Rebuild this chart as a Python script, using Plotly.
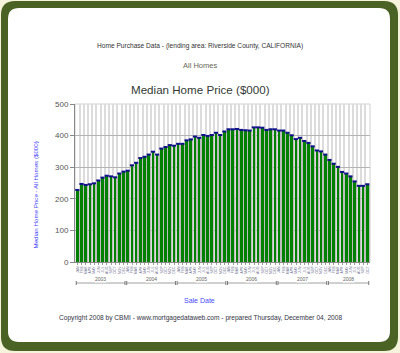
import plotly.graph_objects as go

# ---- data ----
years = ["2003", "2004", "2005", "2006", "2007", "2008"]
months_per_year = [12, 12, 12, 12, 12, 10]
month_names = ["JAN", "FEB", "MAR", "APR", "MAY", "JUN", "JUL", "AUG", "SEP", "OCT", "NOV", "DEC"]
prices = [228, 247, 244, 246, 249, 258, 267, 273, 271, 268, 280, 286,
          289, 306, 314, 329, 333, 340, 349, 340, 359, 364, 370, 368,
          374, 374, 385, 388, 397, 393, 402, 399, 402, 409, 402, 413,
          420, 420, 421, 418, 417, 416, 426, 426, 425, 418, 420, 420,
          416, 416, 409, 401, 389, 393, 383, 377, 366, 353, 350, 340,
          323, 311, 301, 285, 280, 271, 255, 241, 241, 246]

labels = []
for y, n in zip(years, months_per_year):
    for m in month_names[:n]:
        labels.append(m)
xs = list(range(len(prices)))

W, H = 400, 353
L, R, T, B = 75, 30, 104, 91
PW, PH = W - L - R, H - T - B

def px(x):
    return (x - L) / PW

def py(y):
    return (H - B - y) / PH

def rrect(x0, y0, x1, y1, r):
    X0, X1 = px(x0), px(x1)
    Y0, Y1 = py(y0), py(y1)
    rx, ry = r / PW, r / PH
    return (f"M {X0+rx},{Y0} L {X1-rx},{Y0} Q {X1},{Y0} {X1},{Y0-ry} "
            f"L {X1},{Y1+ry} Q {X1},{Y1} {X1-rx},{Y1} L {X0+rx},{Y1} "
            f"Q {X0},{Y1} {X0},{Y1+ry} L {X0},{Y0-ry} Q {X0},{Y0} {X0+rx},{Y0} Z")

fig = go.Figure()
# shadow bars
fig.add_trace(go.Bar(x=xs, y=[p - 1 for p in prices], width=0.7, offset=-0.15,
                     marker=dict(color="#bdbdbd", line=dict(width=0)), hoverinfo="skip"))
# main bars
fig.add_trace(go.Bar(x=xs, y=prices, width=0.62, offset=-0.36,
                     marker=dict(color="#008000", line=dict(width=0))))
# navy caps
fig.add_trace(go.Scatter(x=[x - 0.05 for x in xs], y=prices, mode="markers",
                         marker=dict(symbol="line-ew-open", size=3, color="#10108a",
                                     line=dict(width=2, color="#10108a")),
                         hoverinfo="skip"))

shapes = [
    dict(type="path", xref="paper", yref="paper", path=rrect(1, 1, 398, 351, 14),
         fillcolor="#4a6324", line=dict(width=0), layer="below"),
    dict(type="path", xref="paper", yref="paper", path=rrect(8, 8, 390, 342, 11),
         fillcolor="#ffffff", line=dict(width=0), layer="below"),
]
annotations = []
start = 0
ybr = py(283)
for yname, n in zip(years, months_per_year):
    x0, x1 = start - 0.3, start + n - 0.7
    shapes.append(dict(type="line", xref="x", yref="paper", x0=x0, x1=x1, y0=ybr, y1=ybr,
                       line=dict(color="#a0a0a0", width=1)))
    for xx in (x0, x1):
        shapes.append(dict(type="line", xref="x", yref="paper", x0=xx, x1=xx,
                           y0=ybr + 2 / PH, y1=ybr - 2 / PH,
                           line=dict(color="#777777", width=1)))
    annotations.append(dict(x=(x0 + x1) / 2, y=ybr, xref="x", yref="paper", text=yname,
                            showarrow=False, font=dict(size=5, color="#666666"),
                            bgcolor="#ffffff", borderpad=0))
    start += n

annotations += [
    dict(x=px(200), y=py(40), xref="paper", yref="paper", showarrow=False,
         text="Home Purchase Data - (lending area: Riverside County, CALIFORNIA)",
         font=dict(size=6.6, color="#333333")),
    dict(x=px(200), y=py(59), xref="paper", yref="paper", showarrow=False,
         text="All Homes", font=dict(size=7.5, color="#666655")),
    dict(x=px(200), y=py(81), xref="paper", yref="paper", showarrow=False,
         text="Median Home Price ($000)", font=dict(size=11.6, color="#333a33")),
    dict(x=px(29), y=py(195), xref="paper", yref="paper", showarrow=False, textangle=-90,
         text="Median Home Price - All Homes ($000)", font=dict(size=6.2, color="#4040ff")),
    dict(x=px(199), y=py(306), xref="paper", yref="paper", showarrow=False,
         text="Sale Date", font=dict(size=7, color="#4a4aff")),
    dict(x=px(200), y=py(324), xref="paper", yref="paper", showarrow=False,
         text="Copyright 2008 by CBMI - www.mortgagedataweb.com - prepared Thursday, December 04, 2008",
         font=dict(size=6.6, color="#333344")),
]

fig.update_layout(
    width=W, height=H, margin=dict(l=L, r=R, t=T, b=B, pad=0),
    paper_bgcolor="#f5f3dc", plot_bgcolor="#ffffff",
    barmode="overlay", showlegend=False, bargap=0,
    font=dict(family="Liberation Sans, Arial, sans-serif"),
    shapes=shapes, annotations=annotations,
    xaxis=dict(range=[-0.6, len(prices) - 0.4], tickmode="array", tickvals=xs, ticktext=labels,
               tickangle=-90, tickfont=dict(size=3.5, color="#6a6a8a"),
               showgrid=False, showline=True, linecolor="#888888", linewidth=1,
               mirror=False, ticks="outside", ticklen=2, tickcolor="#999999",
               minor=dict(tick0=0.5, dtick=1, showgrid=True, gridcolor="#dcdcdc", gridwidth=1.5),
               zeroline=False, fixedrange=True),
    yaxis=dict(range=[0, 500], tickvals=[0, 100, 200, 300, 400, 500],
               tickfont=dict(size=8, color="#555555"), showgrid=True,
               gridcolor="#b4b4b4", gridwidth=1, showline=True, linecolor="#888888",
               ticks="outside", ticklen=4, tickcolor="#888888", zeroline=False,
               fixedrange=True),
)
fig.add_shape(type="rect", xref="paper", yref="paper", x0=0, x1=1, y0=0, y1=1,
              line=dict(color="#d0d0d0", width=1), layer="below")

fig.write_html("out.html")
